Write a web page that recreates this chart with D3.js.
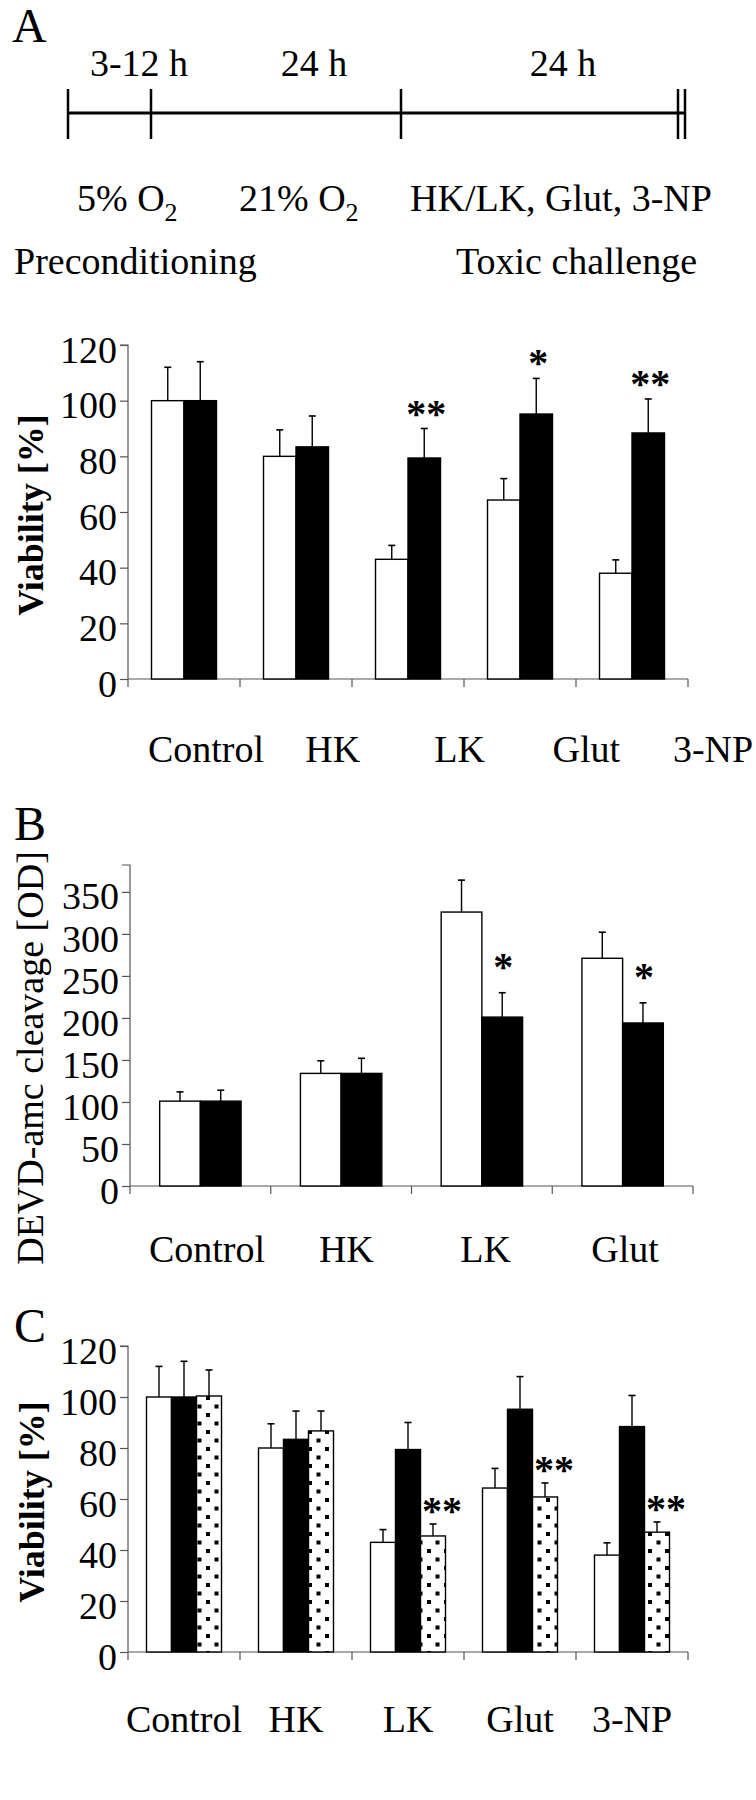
<!DOCTYPE html>
<html><head><meta charset="utf-8">
<script src="https://cdn.jsdelivr.net/npm/d3@7"></script>
<style>
html,body{margin:0;padding:0;background:#fff;}
svg text{font-family:"Liberation Serif","Times New Roman",serif;fill:#000;}
</style></head>
<body>
<svg id="fig" width="756" height="1800"></svg>
<script>
// ---------- DATA ----------
const categoriesA = ["Control", "HK", "LK", "Glut", "3-NP"];
const categoriesB = ["Control", "HK", "LK", "Glut"];
const viabilityCtrl = [100, 80, 43, 64.3, 38];
const viabilityCtrlErr = [12, 9.5, 5, 7.7, 4.8];
const viabilityPre = [100, 83.4, 79.4, 95.2, 88.4];
const viabilityPreErr = [14, 11.1, 10.6, 12.8, 12.2];
const viabilityDot = [100.4, 86.7, 45.5, 60.8, 47];
const viabilityDotErr = [10.2, 7.8, 4.7, 5.5, 4];
const devdCtrl = [101, 134, 326, 271];
const devdCtrlErr = [11, 15, 38, 31];
const devdPre = [101, 134, 201, 194];
const devdPreErr = [13, 18, 29, 24];
const starsA = ["", "", "**", "*", "**"];
const starsB = ["", "", "*", "*"];
const starsC = ["", "", "**", "**", "**"];
const ticksViability = [0, 20, 40, 60, 80, 100, 120];
const ticksDevd = [0, 50, 100, 150, 200, 250, 300, 350];
const timelineTop = ["3-12 h", "24 h", "24 h"];

// ---------- LAYOUT ----------
const svg = d3.select("#fig");
const FS = 38;

// pattern for dotted bars
const defs = svg.append("defs");
const pat = defs.append("pattern").attr("id", "dots").attr("patternUnits", "userSpaceOnUse")
  .attr("width", 17).attr("height", 17);
pat.append("rect").attr("width", 17).attr("height", 17).attr("fill", "#fff");
pat.append("rect").attr("x", 2).attr("y", 2).attr("width", 4).attr("height", 4).attr("fill", "#000");
pat.append("rect").attr("x", 10.5).attr("y", 10.5).attr("width", 4).attr("height", 4).attr("fill", "#000");

function txt(x, y, s, size, anchor, weight) {
  return svg.append("text").attr("x", x).attr("y", y).attr("font-size", size || FS)
    .attr("text-anchor", anchor || "start").attr("font-weight", weight || "normal").text(s);
}

// ---------- PANEL A: timeline ----------
txt(12, 42, "A", 48);
const tl = {y: 113, x0: 68, x1: 685, ticks: [68, 151, 401, 678, 685], top: 89, bot: 139,
  labelX: [139, 314, 563], labelY: 76};
svg.append("line").attr("x1", tl.x0).attr("x2", tl.x1).attr("y1", tl.y).attr("y2", tl.y)
  .attr("stroke", "#000").attr("stroke-width", 3);
tl.ticks.forEach(x => svg.append("line").attr("x1", x).attr("x2", x).attr("y1", tl.top).attr("y2", tl.bot)
  .attr("stroke", "#000").attr("stroke-width", 2.5));
timelineTop.forEach((s, i) => txt(tl.labelX[i], tl.labelY, s, FS, "middle"));

function o2(x, y, pre) {
  const t = svg.append("text").attr("x", x).attr("y", y).attr("font-size", FS);
  t.append("tspan").text(pre + " O");
  t.append("tspan").attr("font-size", 26).attr("dy", 10).text("2");
}
o2(77, 211, "5%");
o2(239, 211, "21%");
txt(410, 211, "HK/LK, Glut, 3-NP");
txt(14, 274, "Preconditioning");
txt(456, 274, "Toxic challenge");

// ---------- generic bar panel ----------
function panel(cfg) {
  const g = svg.append("g");
  const x0 = d3.scaleBand().domain(cfg.categories).range([cfg.xl, cfg.xr]).padding(0);
  const bw = x0.bandwidth();
  const ns = cfg.series.length;
  const gap = (bw - ns * cfg.barW) / 2;
  const x1 = d3.scaleBand().domain(d3.range(ns)).range([gap, bw - gap]).padding(0);
  const y = d3.scaleLinear().domain(cfg.domain).range([cfg.y0, cfg.ytop]);

  // axes
  const ya = d3.axisLeft(y).tickValues(cfg.ticks).tickSize(8).tickFormat(d3.format("d"));
  const yg = g.append("g").attr("transform", `translate(${cfg.xl},0)`).call(ya);
  yg.attr("font-family", null);
  yg.select(".domain").attr("stroke", "#555").attr("stroke-width", 1.2)
    .attr("d", `M-8,${y(cfg.domain[1])}H0V${cfg.y0}`);
  yg.selectAll(".tick line").attr("stroke", "#555").attr("stroke-width", 1.2);
  yg.selectAll(".tick text").attr("font-size", FS).attr("x", -11).attr("dy", "0.45em")
    .attr("fill", "#000");

  const xa = d3.axisBottom(x0).tickSize(0).tickFormat("");
  const xg = g.append("g").attr("transform", `translate(0,${cfg.y0})`).call(xa);
  xg.select(".domain").attr("stroke", "#555").attr("stroke-width", 1.2)
    .attr("d", `M${cfg.xl},0H${cfg.xr}`);
  const bounds = cfg.categories.map(c => x0(c)).concat([cfg.xr]);
  g.selectAll(".ctick").data(bounds).join("line").attr("class", "ctick")
    .attr("x1", d => d).attr("x2", d => d).attr("y1", cfg.y0).attr("y2", cfg.y0 + 8)
    .attr("stroke", "#555").attr("stroke-width", 1.2);

  // bars
  cfg.series.forEach((s, si) => {
    const data = cfg.categories.map((c, i) => ({c, v: s.values[i], e: s.err[i], star: s.stars ? s.stars[i] : ""}));
    const bx = d => x0(d.c) + x1(si);
    g.selectAll(".bar" + si).data(data).join("rect").attr("class", "bar" + si)
      .attr("x", bx).attr("width", x1.bandwidth())
      .attr("y", d => y(d.v)).attr("height", d => y(0) - y(d.v))
      .attr("fill", s.fill).attr("stroke", "#000").attr("stroke-width", 1.4);
    const cx = d => bx(d) + x1.bandwidth() / 2;
    g.selectAll(".err" + si).data(data).join("line").attr("class", "err" + si)
      .attr("x1", cx).attr("x2", cx).attr("y1", d => y(d.v)).attr("y2", d => y(d.v + d.e))
      .attr("stroke", "#000").attr("stroke-width", 1.4);
    g.selectAll(".cap" + si).data(data).join("line").attr("class", "cap" + si)
      .attr("x1", d => cx(d) - 3.5).attr("x2", d => cx(d) + 3.5)
      .attr("y1", d => y(d.v + d.e)).attr("y2", d => y(d.v + d.e))
      .attr("stroke", "#000").attr("stroke-width", 1.6);
    if (s.stars) {
      g.selectAll(".star" + si).data(data.filter(d => d.star)).join("text").attr("class", "star" + si)
        .attr("x", d => cx(d) + cfg.starDx).attr("y", d => y(d.v + d.e) - cfg.starOff + 19)
        .attr("text-anchor", "middle").attr("font-size", 40).attr("font-weight", "bold")
        .text(d => d.star);
    }
  });

  // category labels
  const lx = cfg.labelRange ? d3.scalePoint().domain(cfg.categories).range(cfg.labelRange)
                            : (c => x0(c) + bw / 2);
  g.selectAll(".clab").data(cfg.categories).join("text").attr("class", "clab")
    .attr("x", d => lx(d)).attr("y", cfg.labelY).attr("text-anchor", "middle")
    .attr("font-size", FS).text(d => d);

  // y title
  g.append("text").attr("transform", `translate(${cfg.titleX},${cfg.titleY}) rotate(-90)`)
    .attr("text-anchor", "middle").attr("font-size", cfg.titleSize || FS)
    .attr("font-weight", cfg.titleWeight || "normal").text(cfg.title);
}

panel({
  categories: categoriesA, xl: 128, xr: 688, y0: 679, ytop: 345, domain: [0, 120], ticks: ticksViability,
  barW: 32.5,
  series: [
    {fill: "#fff", values: viabilityCtrl, err: viabilityCtrlErr},
    {fill: "#000", values: viabilityPre, err: viabilityPreErr, stars: starsA}
  ],
  starOff: 21, starDx: 2, labelRange: [206, 713], labelY: 762,
  title: "Viability [%]", titleX: 43, titleY: 515, titleSize: 36, titleWeight: "bold"
});

txt(14, 840, "B", 48);
panel({
  categories: categoriesB, xl: 130, xr: 693, y0: 1186, ytop: 865, domain: [0, 382], ticks: ticksDevd,
  barW: 40.7,
  series: [
    {fill: "#fff", values: devdCtrl, err: devdCtrlErr},
    {fill: "#000", values: devdPre, err: devdPreErr, stars: starsB}
  ],
  starOff: 32, starDx: 1, labelRange: [207, 625], labelY: 1262,
  title: "DEVD-amc cleavage [OD]", titleX: 43, titleY: 1058, titleSize: 38
});

txt(14, 1342, "C", 48);
panel({
  categories: categoriesA, xl: 128, xr: 688, y0: 1652, ytop: 1346, domain: [0, 120], ticks: ticksViability,
  barW: 25,
  series: [
    {fill: "#fff", values: viabilityCtrl, err: viabilityCtrlErr},
    {fill: "#000", values: viabilityPre, err: viabilityPreErr},
    {fill: "url(#dots)", values: viabilityDot, err: viabilityDotErr, stars: starsC}
  ],
  starOff: 19, starDx: 9, labelY: 1732,
  title: "Viability [%]", titleX: 44, titleY: 1502, titleSize: 36, titleWeight: "bold"
});
</script>
</body></html>
